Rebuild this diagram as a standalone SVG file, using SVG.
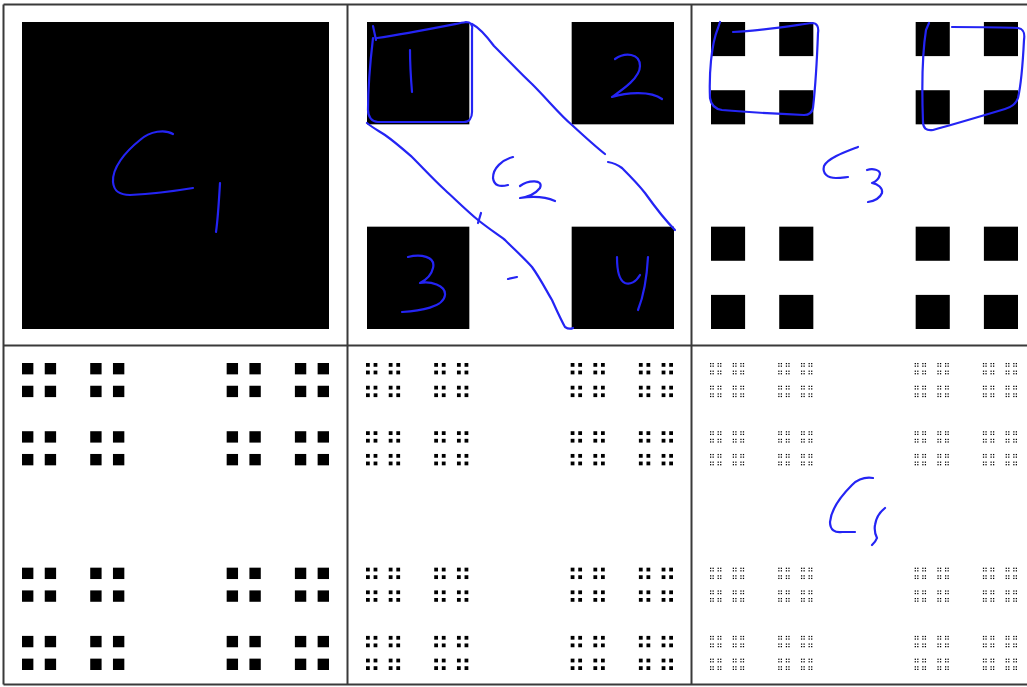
<svg xmlns="http://www.w3.org/2000/svg" width="1027" height="687" viewBox="0 0 1027 687">
<style>
.grid{stroke:#3a3a3a;stroke-width:2;fill:none}
.ink{stroke:#2424f4;stroke-width:2.2;fill:none;stroke-linecap:round;stroke-linejoin:round}
</style>
<defs>
<rect id="L0" width="307" height="307" fill="#000"/>
<g id="L1"><use href="#L0" transform="scale(0.333333)"/><use href="#L0" transform="translate(204.6667,0) scale(0.333333)"/><use href="#L0" transform="translate(0,204.6667) scale(0.333333)"/><use href="#L0" transform="translate(204.6667,204.6667) scale(0.333333)"/></g>
<g id="L2"><use href="#L1" transform="scale(0.333333)"/><use href="#L1" transform="translate(204.6667,0) scale(0.333333)"/><use href="#L1" transform="translate(0,204.6667) scale(0.333333)"/><use href="#L1" transform="translate(204.6667,204.6667) scale(0.333333)"/></g>
<g id="L3"><use href="#L2" transform="scale(0.333333)"/><use href="#L2" transform="translate(204.6667,0) scale(0.333333)"/><use href="#L2" transform="translate(0,204.6667) scale(0.333333)"/><use href="#L2" transform="translate(204.6667,204.6667) scale(0.333333)"/></g>
<g id="L4"><use href="#L3" transform="scale(0.333333)"/><use href="#L3" transform="translate(204.6667,0) scale(0.333333)"/><use href="#L3" transform="translate(0,204.6667) scale(0.333333)"/><use href="#L3" transform="translate(204.6667,204.6667) scale(0.333333)"/></g>
<g id="L5"><use href="#L4" transform="scale(0.333333)"/><use href="#L4" transform="translate(204.6667,0) scale(0.333333)"/><use href="#L4" transform="translate(0,204.6667) scale(0.333333)"/><use href="#L4" transform="translate(204.6667,204.6667) scale(0.333333)"/></g>
</defs>
<rect width="1027" height="687" fill="#fff"/>

<g id="panel-c1"><use href="#L0" transform="translate(22,22)"/></g>
<g id="panel-c2"><use href="#L1" transform="translate(367,22)"/></g>
<g id="panel-c3"><use href="#L2" transform="translate(711,22)"/></g>
<g id="panel-c4"><use href="#L3" transform="translate(22,363)"/></g>
<g id="panel-c5"><use href="#L4" transform="translate(366,363)"/></g>
<g id="panel-c6"><use href="#L5" transform="translate(710,363)"/></g>

<g id="grid" class="grid">
<line x1="3.5" y1="4.5" x2="1027" y2="4.5"/>
<line x1="3.5" y1="345.5" x2="1027" y2="345.5"/>
<line x1="3.5" y1="684.5" x2="1027" y2="684.5"/>
<line x1="3.5" y1="4.5" x2="3.5" y2="684.5"/>
<line x1="347.5" y1="4.5" x2="347.5" y2="684.5"/>
<line x1="691.5" y1="4.5" x2="691.5" y2="684.5"/>
</g>

<g id="annotations" class="ink">
<!-- C1 -->
<path d="M173,134 C165,129 150,131 140,140 C125,152 112,168 113,182 C114,192 120,195 130,195 C150,194 175,191 193,188"/>
<path d="M220,183 C219,200 218,218 216,232"/>
<!-- loop around square 1 -->
<path d="M373,26 L376,40 M377,38 C405,34 440,27 466,22 C470,22 473,24 472,30 L472,112 C472,118 469,122 464,122 L378,122 C372,122 368,117 368,110 C368,85 371,55 373,38"/>
<path d="M410,50 C410,65 411,80 412,92"/>
<!-- 2 -->
<path d="M615,59 C625,52 640,53 640,66 C640,78 622,90 612,97 C625,93 650,90 662,99"/>
<!-- 3 -->
<path d="M408,257 C420,254 436,256 433,268 C431,277 422,282 420,283 C430,281 446,285 445,295 C444,307 420,311 402,312"/>
<!-- 4 -->
<path d="M617,257 C617,268 618,280 625,283 C630,285 636,282 640,275"/>
<path d="M648,257 C647,275 644,295 638,310"/>
<!-- band -->
<path d="M472,24 C480,28 488,38 494,46 C510,62 522,75 532,84 C548,100 560,115 572,125 C585,137 596,147 605,154"/>
<path d="M608,162 C614,163 618,165 622,168 C630,176 638,184 645,193 C655,207 665,220 675,230"/>
<path d="M367,123 C373,128 379,131 385,135 C395,142 404,150 412,157 C424,169 434,180 445,190 C456,200 467,211 478,220 C488,228 497,234 505,240 C515,250 524,258 532,267 C540,278 546,290 552,300 C557,311 561,320 565,327 C568,329 571,329 573,328"/>
<path d="M481,213 L478,223"/>
<path d="M508,279 L517,277"/>
<!-- C2 -->
<path d="M513,157 C502,160 493,168 493,178 C494,186 500,187 508,185"/>
<path d="M520,186 C528,180 544,179 540,188 C536,193 528,197 520,198 C533,196 546,197 555,201"/>
<!-- loops panel 3 -->
<path d="M733,32 C760,31 790,26 812,23 C817,23 819,27 818,33 C817,60 815,90 813,108 C812,113 809,115 804,115 C780,114 745,112 722,110 C715,109 711,105 710,98 C709,75 711,45 718,28 L720,22"/>
<path d="M952,27 C975,27 1000,27 1018,28 C1024,29 1025,33 1024,40 C1023,60 1021,85 1018,98 C1016,104 1012,107 1005,109 C985,115 955,124 933,130 C926,131 923,128 923,122 C922,95 922,55 926,30 L929,23"/>
<!-- C3 -->
<path d="M858,147 C845,152 828,158 824,166 C822,174 828,178 836,178 C842,178 846,177 848,177"/>
<path d="M867,170 C873,168 880,170 880,174 C879,179 875,182 872,183 C878,184 883,188 882,193 C880,198 874,201 868,202"/>
<!-- C6 -->
<path d="M873,478 C866,477 858,479 852,485 C840,497 831,510 830,522 C830,530 835,533 842,532 C847,532 852,532 855,532"/>
<path d="M885,508 C880,512 876,518 875,525 C874,531 876,536 877,538 C876,541 874,543 872,545"/>
</g>
</svg>
